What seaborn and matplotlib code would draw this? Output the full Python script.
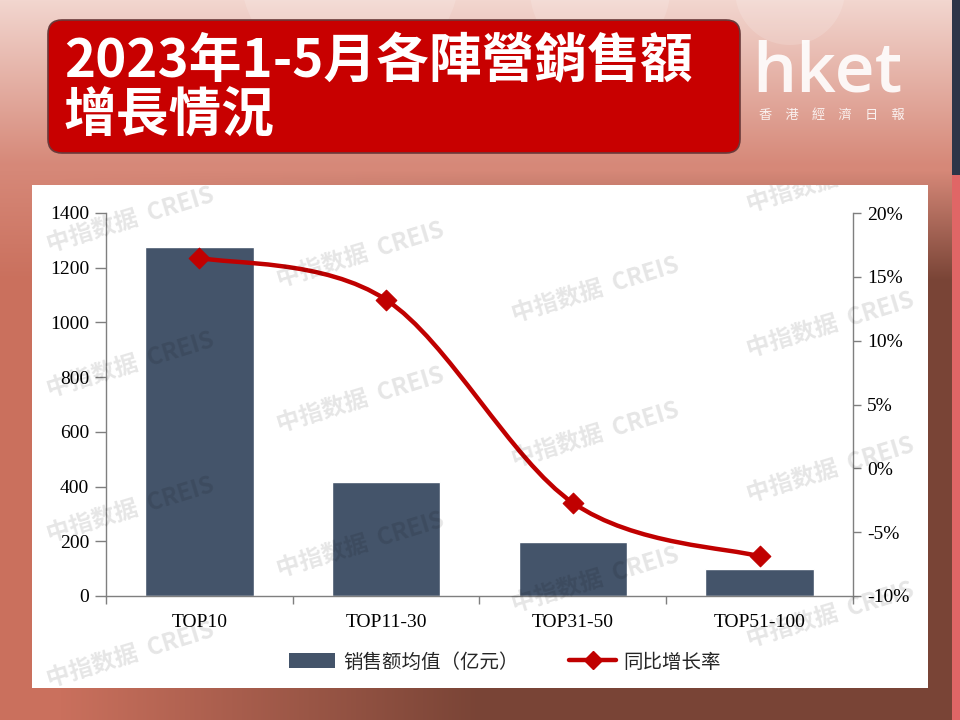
import numpy as np
import pandas as pd
import seaborn as sns
import matplotlib
matplotlib.use("Agg")
import matplotlib.pyplot as plt
from matplotlib.path import Path
from matplotlib.patches import PathPatch, FancyBboxPatch, Patch, Circle
from matplotlib.lines import Line2D

# data
groups = ["TOP10", "TOP11-30", "TOP31-50", "TOP51-100"]
sales = [1275, 415, 197, 97]          # 销售额均值（亿元）
growth = [16.5, 13.2, -2.7, -6.9]     # 同比增长率 (%)
left_ticks = [0, 200, 400, 600, 800, 1000, 1200, 1400]
right_ticks = [-10, -5, 0, 5, 10, 15, 20]

title_lines = ["2023年1-5月各陣營銷售額", "增長情況"]
bar_label = "销售额均值（亿元）"
line_label = "同比增长率"

BAR = "#44546a"
RED = "#c00000"
W, H = 960, 720

sns.set_theme(style="white")
plt.rcParams["font.family"] = ["Noto Sans CJK SC", "DejaVu Sans"]

fig = plt.figure(figsize=(9.6, 7.2), dpi=100)


def fx(px):
    return px / W


def fy(py):
    return 1 - py / H


# background gradient
yy, xx = np.mgrid[0:H, 0:W]
top_c = np.array([242, 214, 207]) / 255
mid_c = np.array([214, 136, 120]) / 255
t = np.clip(yy / 165, 0, 1)[..., None]
header = top_c * (1 - t) + mid_c * t
left_c = np.array([202, 112, 93]) / 255
right_c = np.array([121, 68, 54]) / 255
h = np.clip((xx - 60) / 420, 0, 1)[..., None]
lower = left_c * (1 - h) + right_c * h
wgt = np.clip((yy - 170) / 110, 0, 1)[..., None]
bg = header * (1 - wgt) + lower * wgt
bg[:175, 952:] = np.array([46, 53, 72]) / 255
bg[175:, 952:] = np.array([224, 102, 102]) / 255

bg_ax = fig.add_axes([0, 0, 1, 1], zorder=-10)
bg_ax.imshow(bg, aspect="auto", extent=[0, W, H, 0])
bg_ax.set_xlim(0, W)
bg_ax.set_ylim(H, 0)
bg_ax.axis("off")
for cx, cy, r in [(350, -30, 110), (600, -10, 70), (790, -10, 55)]:
    bg_ax.add_patch(Circle((cx, cy), r, facecolor="white", alpha=0.15, lw=0))

# title box
bg_ax.add_patch(FancyBboxPatch((48, 20), 692, 133, boxstyle="round,pad=0,rounding_size=14",
                               facecolor="#c80000", edgecolor="#6a3a3a", lw=1.2))
fig.text(fx(64), fy(62), title_lines[0], color="white", fontsize=38, fontweight="bold",
         family=["Noto Sans CJK TC", "DejaVu Sans"], va="center", ha="left")
fig.text(fx(64), fy(116), title_lines[1], color="white", fontsize=38, fontweight="bold",
         family=["Noto Sans CJK TC", "DejaVu Sans"], va="center", ha="left")

# hket logo
fig.text(fx(752), fy(92), "hket", color="white", alpha=0.9, fontsize=50, fontweight="semibold",
         family=["Open Sans", "DejaVu Sans"], va="baseline", ha="left")
fig.text(fx(832), fy(115), "香　港　經　濟　日　報", color="white", alpha=0.85, fontsize=9.5,
         family=["Noto Sans CJK TC", "DejaVu Sans"], va="center", ha="center")

# white panel
panel = fig.add_axes([fx(32), fy(688), fx(928) - fx(32), (688 - 185) / H], zorder=0)
panel.set_facecolor("white")
panel.set_xticks([])
panel.set_yticks([])
for s in panel.spines.values():
    s.set_visible(False)

# chart
ax = fig.add_axes([fx(106), fy(596), fx(853) - fx(106), (596 - 213) / H], zorder=1)
ax.patch.set_alpha(0)
df = pd.DataFrame({"group": groups, "sales": sales})
sns.barplot(data=df, x="group", y="sales", color=BAR, saturation=1, width=0.58, ax=ax)
ax.set_xlim(-0.5, 3.5)
ax.set_ylim(0, 1400)
ax.set_yticks(left_ticks)
ax.set_xlabel("")
ax.set_ylabel("")
ax.set_xticks(np.arange(-0.5, 4, 1), minor=True)
ax.tick_params(axis="x", which="major", length=0, pad=13)
ax.tick_params(axis="x", which="minor", length=6, width=1, color="#7f7f7f", direction="out", bottom=True)
ax.tick_params(axis="y", length=8, width=1, color="#7f7f7f", direction="out", left=True, pad=4)
for lab in ax.get_xticklabels() + ax.get_yticklabels():
    lab.set_fontfamily("Liberation Serif")
    lab.set_fontsize(14)
    lab.set_color("black")
for side in ["top", "right"]:
    ax.spines[side].set_visible(False)
for side in ["left", "bottom"]:
    ax.spines[side].set_color("#7f7f7f")
    ax.spines[side].set_linewidth(1)

ax2 = ax.twinx()
ax2.set_ylim(-10, 20)
ax2.set_yticks(right_ticks)
ax2.set_yticklabels([f"{v}%" for v in right_ticks])
ax2.tick_params(axis="y", length=6, width=1, color="#7f7f7f", direction="out", right=True, pad=4)
for lab in ax2.get_yticklabels():
    lab.set_fontfamily("Liberation Serif")
    lab.set_fontsize(14)
    lab.set_color("black")
for side in ["top", "left", "bottom"]:
    ax2.spines[side].set_visible(False)
ax2.spines["right"].set_color("#7f7f7f")
ax2.spines["right"].set_linewidth(1)
ax2.grid(False)
ax.grid(False)

# smoothed growth line (Catmull-Rom through the data points)
pts = np.column_stack([np.arange(len(growth)), growth]).astype(float)
ext = np.vstack([pts[0], pts, pts[-1]])
verts = [tuple(pts[0])]
codes = [Path.MOVETO]
for i in range(len(pts) - 1):
    p0, p1, p2, p3 = ext[i], ext[i + 1], ext[i + 2], ext[i + 3]
    c1 = p1 + (p2 - p0) / 6
    c2 = p2 - (p3 - p1) / 6
    verts += [tuple(c1), tuple(c2), tuple(p2)]
    codes += [Path.CURVE4] * 3
ax2.add_patch(PathPatch(Path(verts, codes), facecolor="none", edgecolor=RED, lw=3.2,
                        capstyle="round", joinstyle="round"))
sns.scatterplot(x=np.arange(len(growth)), y=growth, marker="D", s=110, color=RED,
                edgecolor=RED, ax=ax2, zorder=5, legend=False)

# watermarks
wm = fig.add_axes(panel.get_position().bounds, zorder=3)
wm.patch.set_alpha(0)
wm.set_xlim(32, 928)
wm.set_ylim(688, 185)
wm.axis("off")
for col, cx in enumerate([130, 360, 595, 830]):
    for k in range(-1, 4):
        cy = 220 + 35 * col + 145 * k
        if cy < 175 or cy > 670:
            continue
        wm.text(cx, cy, "中指数据  CREIS", rotation=17, rotation_mode="anchor", ha="center",
                va="center", fontsize=17, fontweight="bold", color="black", alpha=0.1,
                clip_on=True)

# legend
handles = [Patch(facecolor=BAR, edgecolor="none"),
           Line2D([0], [0], color=RED, lw=3.2, marker="D", markersize=9)]
fig.legend(handles, [bar_label, line_label], loc="center", bbox_to_anchor=(fx(505), fy(662)),
           ncol=2, frameon=False, fontsize=14, handlelength=2.4, handleheight=0.8,
           columnspacing=2.6, handletextpad=0.4)

fig.savefig("out.png", dpi=100)
